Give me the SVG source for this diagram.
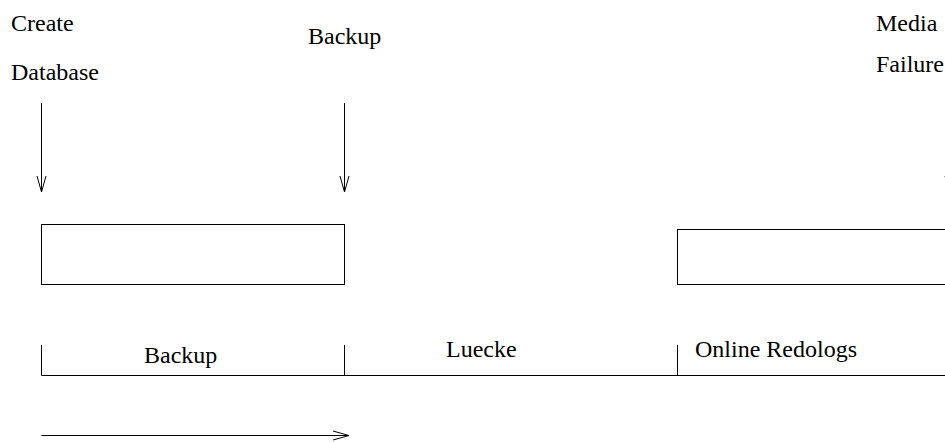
<svg xmlns="http://www.w3.org/2000/svg" width="945" height="443" viewBox="0 0 945 443">
  <style>
    text { font-family: 'Liberation Serif', 'Times New Roman', 'DejaVu Serif', serif; font-size: 24px; fill: #000; }
    .ln { stroke: #000; stroke-width: 1; fill: none; }
    .box { stroke: #000; stroke-width: 1; fill: #fff; }
  </style>
  <defs>
    <marker id="vhead" markerUnits="userSpaceOnUse" markerWidth="20" markerHeight="12" viewBox="-17 -6 18 12" refX="0" refY="0" orient="auto">
      <path d="M -16 -4.5 L 0 0 L -16 4.5" fill="none" stroke="#000" stroke-width="1"/>
    </marker>
  </defs>

  <!-- event labels -->
  <g id="create-database" font-family="Liberation Serif, serif">
    <text x="11" y="31">Create</text>
    <text x="11" y="80">Database</text>
  </g>
  <g id="backup-event" font-family="Liberation Serif, serif">
    <text x="308" y="44">Backup</text>
  </g>
  <g id="media-failure" font-family="Liberation Serif, serif">
    <text x="876" y="31">Media</text>
    <text x="876" y="72">Failure</text>
  </g>

  <!-- storage boxes -->
  <g id="backup-box">
    <rect class="box" x="41.5" y="224.5" width="303" height="60"/>
  </g>
  <g id="redolog-box">
    <rect class="box" x="677.5" y="229.5" width="300" height="55"/>
  </g>

  <!-- timeline with segments -->
  <g id="timeline">
    <line class="ln" x1="41.5" y1="375.5" x2="945" y2="375.5"/>
    <line class="ln" x1="41.5" y1="345" x2="41.5" y2="375.5"/>
    <line class="ln" x1="344.5" y1="345" x2="344.5" y2="375.5"/>
    <line class="ln" x1="677.5" y1="345" x2="677.5" y2="375.5"/>
  </g>
  <g id="seg-backup" font-family="Liberation Serif, serif">
    <text x="144" y="363">Backup</text>
  </g>
  <g id="seg-luecke" font-family="Liberation Serif, serif">
    <text x="446" y="357">Luecke</text>
  </g>
  <g id="seg-online-redologs" font-family="Liberation Serif, serif">
    <text x="695" y="357">Online Redologs</text>
  </g>

  <!-- connectors -->
  <g id="connectors">
    <line class="ln" x1="41.5" y1="103" x2="41.5" y2="192" marker-end="url(#vhead)"/>
    <line class="ln" x1="344.5" y1="103" x2="344.5" y2="192" marker-end="url(#vhead)"/>
    <line class="ln" x1="949.5" y1="103" x2="949.5" y2="192" marker-end="url(#vhead)"/>
    <line class="ln" x1="41.5" y1="435.5" x2="349" y2="435.5" marker-end="url(#vhead)"/>
  </g>
</svg>
